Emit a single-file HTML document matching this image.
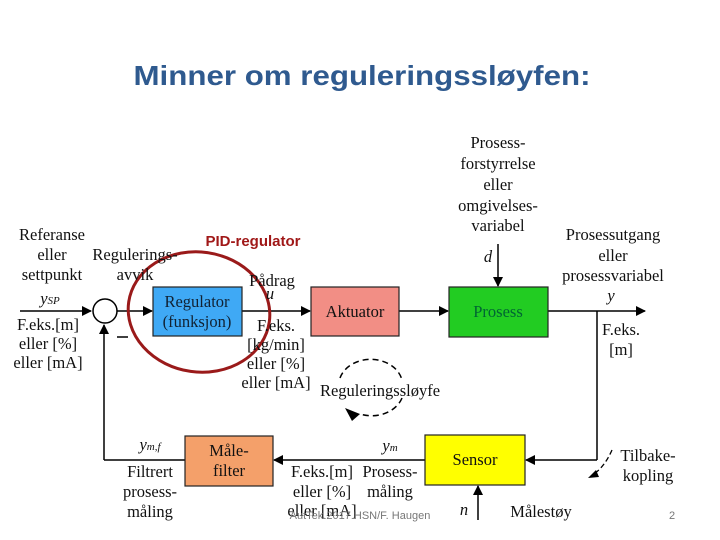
<!DOCTYPE html>
<html><head><meta charset="utf-8"><style>
html,body{margin:0;padding:0;background:#fff;}
svg{display:block;}
text{font-family:"Liberation Serif",serif;font-size:16.5px;fill:#111;}
.c{text-anchor:middle;}
.i{font-style:italic;}
</style></head><body>
<svg width="720" height="540" viewBox="0 0 720 540" xmlns="http://www.w3.org/2000/svg">
<defs>
<marker id="a" markerWidth="10" markerHeight="10" refX="9" refY="5" orient="auto" markerUnits="userSpaceOnUse">
<path d="M0,0 L10,5 L0,10 z" fill="#000"/></marker>
</defs>
<text x="362" y="85" class="c" style="font-family:'Liberation Sans',sans-serif;font-weight:bold;font-size:28px;fill:#2f5a8f;" textLength="457" lengthAdjust="spacingAndGlyphs">Minner om reguleringssløyfen:</text>

<g stroke="#000" stroke-width="1.5" fill="none">
<line x1="20" y1="311" x2="91" y2="311" marker-end="url(#a)"/>
<line x1="117" y1="311" x2="152" y2="311" marker-end="url(#a)"/>
<line x1="242" y1="311" x2="310" y2="311" marker-end="url(#a)"/>
<line x1="399" y1="311" x2="448" y2="311" marker-end="url(#a)"/>
<line x1="548" y1="311" x2="645" y2="311" marker-end="url(#a)"/>
<line x1="597" y1="311" x2="597" y2="460"/>
<line x1="597" y1="460" x2="526" y2="460" marker-end="url(#a)"/>
<line x1="425" y1="460" x2="274" y2="460" marker-end="url(#a)"/>
<line x1="185" y1="460" x2="104" y2="460"/>
<line x1="104" y1="460" x2="104" y2="325" marker-end="url(#a)"/>
<line x1="498" y1="244" x2="498" y2="286" marker-end="url(#a)"/>
<line x1="478" y1="520" x2="478" y2="486" marker-end="url(#a)"/>
<line x1="117" y1="337" x2="128" y2="337"/>
</g>
<circle cx="105" cy="311" r="12" fill="#fff" stroke="#000" stroke-width="1.5"/>

<rect x="153" y="287" width="89" height="49" fill="#3fa9f5" stroke="#222" stroke-width="1.2"/>
<text x="197" y="307" class="c" style="fill:#123">Regulator</text>
<text x="197" y="327" class="c" style="fill:#123">(funksjon)</text>
<rect x="311" y="287" width="88" height="49" fill="#f28e85" stroke="#222" stroke-width="1.2"/>
<text x="355" y="317" class="c">Aktuator</text>
<rect x="449" y="287" width="99" height="50" fill="#22cc22" stroke="#222" stroke-width="1.2"/>
<text x="498" y="317" class="c" style="fill:#063">Prosess</text>
<rect x="425" y="435" width="100" height="50" fill="#ffff00" stroke="#222" stroke-width="1.2"/>
<text x="475" y="465" class="c">Sensor</text>
<rect x="185" y="436" width="88" height="50" fill="#f4a06a" stroke="#222" stroke-width="1.2"/>
<text x="229" y="456" class="c">Måle-</text>
<text x="229" y="476" class="c">filter</text>

<ellipse cx="199" cy="312" rx="71" ry="60" fill="none" stroke="#9a1a1a" stroke-width="3" transform="rotate(8 199 312)"/>
<text x="253" y="246" class="c" style="font-family:'Liberation Sans',sans-serif;font-weight:bold;font-size:15px;fill:#a01818;">PID-regulator</text>

<path d="M 340 378 A 32 26 0 0 1 402 380 M 402 398 A 32 26 0 0 1 360 414" fill="none" stroke="#000" stroke-width="1.5" stroke-dasharray="6,4"/>
<path d="M 345 408 L 360 414 L 352 421 z" fill="#000"/>
<text x="380" y="396" class="c">Reguleringssløyfe</text>

<text x="52" y="240" class="c">Referanse</text>
<text x="52" y="260" class="c">eller</text>
<text x="52" y="280" class="c">settpunkt</text>
<text x="50" y="304" class="c i">y<tspan style="font-size:11px">SP</tspan></text>
<text x="48" y="330" class="c">F.eks.[m]</text>
<text x="48" y="349" class="c">eller [%]</text>
<text x="48" y="368" class="c">eller [mA]</text>
<text x="135" y="260" class="c">Regulerings-</text>
<text x="135" y="280" class="c">avvik</text>

<text x="272" y="286" class="c">Pådrag</text>
<text x="270" y="299" class="c i">u</text>
<text x="276" y="331" class="c">F.eks.</text>
<text x="276" y="350" class="c">[kg/min]</text>
<text x="276" y="369" class="c">eller [%]</text>
<text x="276" y="388" class="c">eller [mA]</text>

<text x="498" y="148" class="c">Prosess-</text>
<text x="498" y="169" class="c">forstyrrelse</text>
<text x="498" y="190" class="c">eller</text>
<text x="498" y="211" class="c">omgivelses-</text>
<text x="498" y="231" class="c">variabel</text>
<text x="488" y="262" class="c i">d</text>
<text x="613" y="240" class="c">Prosessutgang</text>
<text x="613" y="261" class="c">eller</text>
<text x="613" y="281" class="c">prosessvariabel</text>
<text x="611" y="301" class="c i">y</text>
<text x="621" y="335" class="c">F.eks.</text>
<text x="621" y="355" class="c">[m]</text>

<text x="150" y="450" class="c i">y<tspan style="font-size:11px">m,f</tspan></text>
<text x="150" y="477" class="c">Filtrert</text>
<text x="150" y="497" class="c">prosess-</text>
<text x="150" y="517" class="c">måling</text>
<text x="390" y="451" class="c i">y<tspan style="font-size:11px">m</tspan></text>
<text x="322" y="477" class="c">F.eks.[m]</text>
<text x="322" y="497" class="c">eller [%]</text>
<text x="322" y="516" class="c">eller [mA]</text>
<text x="390" y="477" class="c">Prosess-</text>
<text x="390" y="497" class="c">måling</text>
<text x="464" y="515" class="c i">n</text>
<text x="541" y="517" class="c">Målestøy</text>
<text x="648" y="461" class="c">Tilbake-</text>
<text x="648" y="481" class="c">kopling</text>
<path d="M 612 450 Q 605 466 594 474" fill="none" stroke="#000" stroke-width="1.3" stroke-dasharray="5,3"/>
<path d="M 588 478 L 596 470 L 599 477 z" fill="#000"/>

<text x="360" y="519" class="c" style="font-family:'Liberation Sans',sans-serif;font-size:11px;fill:#777;">AutTek 2017 HSN/F. Haugen</text>
<text x="672" y="519" class="c" style="font-family:'Liberation Sans',sans-serif;font-size:11px;fill:#777;">2</text>
</svg>
</body></html>
